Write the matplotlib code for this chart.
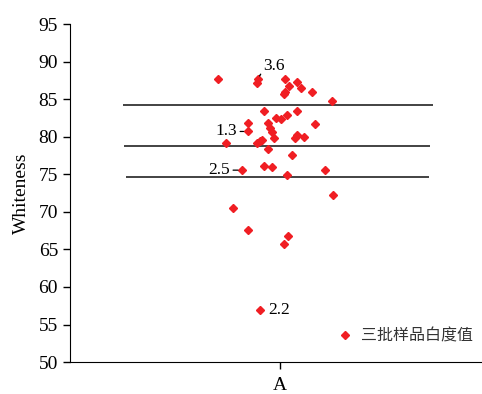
import matplotlib
matplotlib.use('Agg')
from matplotlib import pyplot as plt

# whiteness values of the three batches, with horizontal jitter around category A
offsets = [-0.296, -0.106, -0.111, 0.022, 0.078, 0.043, 0.098, 0.024, 0.016, 0.152,
           0.247, -0.079, 0.079, 0.032, -0.020, 0.003, -0.152, -0.059, 0.167, -0.048,
           -0.041, -0.154, 0.079, -0.027, 0.073, 0.114, -0.087, -0.098, -0.108, -0.257,
           -0.056, 0.056, -0.181, -0.075, -0.037, 0.214, 0.032, 0.249, -0.225, -0.154,
           0.038, 0.019, -0.098]
whiteness = [87.7, 87.7, 87.1, 87.65, 87.3, 86.7, 86.45, 86.0, 85.65, 85.9,
             84.8, 83.4, 83.4, 82.9, 82.55, 82.4, 81.8, 81.85, 81.75, 81.15,
             80.65, 80.7, 80.25, 79.8, 79.8, 79.9, 79.6, 79.4, 79.2, 79.1,
             78.3, 77.5, 75.55, 76.1, 76.0, 75.6, 74.95, 72.25, 70.5, 67.55,
             66.85, 65.7, 56.9]
ref_lines = [84.25, 78.7, 74.6]
categories = ['A']
labels = ['3.6', '1.3', '2.5', '2.2']
label_idx = [1, 21, 32, 42]
label_offsets = [(4, 9), (-8, 0), (-9, 0), (6, 0)]

plt.rcParams['font.family'] = ['Liberation Serif', 'Noto Sans CJK SC']

fig = plt.figure(figsize=(4.82, 3.94), dpi=100)
ax = fig.add_axes([0.145, 0.081, 0.855, 0.858])

xs = [1 + o for o in offsets]
ax.plot(xs, whiteness, linestyle='none', marker='D', markersize=4.3,
        color='#f01e23', label='三批样品白度值', zorder=3)

for y, (x0, x1) in zip(ref_lines, [(0.253, 1.725), (0.257, 1.712), (0.267, 1.709)]):
    ax.hlines(y, x0, x1, color='#222222', linewidth=1.2, zorder=2)

for lab, i, off in zip(labels, label_idx, label_offsets):
    ha = 'left' if off[0] > 0 else 'right'
    if lab == '2.2':
        arrow = None
    elif lab == '3.6':
        arrow = dict(arrowstyle='-', color='black', lw=1.0, relpos=(0.0, 0.3),
                     shrinkA=0, shrinkB=2.5)
    else:
        arrow = dict(arrowstyle='-', color='black', lw=0.9, shrinkA=0.5, shrinkB=3)
    ax.annotate(lab, xy=(xs[i], whiteness[i]), xytext=off, textcoords='offset points',
                ha=ha, va='center', fontsize=12.5, arrowprops=arrow)

ax.set_xlim(0, 1.96)
ax.set_ylim(50, 95)
ax.set_xticks([1])
ax.set_xticklabels(categories, fontsize=14)
ax.set_yticks(range(50, 96, 5))
ax.tick_params(axis='y', labelsize=14, length=5, width=1)
ax.tick_params(axis='x', length=5, width=1, pad=6)
ax.set_ylabel('Whiteness', fontsize=14, labelpad=6)
ax.spines['top'].set_visible(False)
ax.spines['right'].set_visible(False)

leg = ax.legend(loc='lower right', frameon=False, handletextpad=0.5,
                handlelength=1.0, bbox_to_anchor=(1.012, 0.01),
                prop={'family': ['Noto Sans CJK SC'], 'size': 11.5})
for t in leg.get_texts():
    t.set_color('#333333')

fig.savefig('out.png', dpi=100)
